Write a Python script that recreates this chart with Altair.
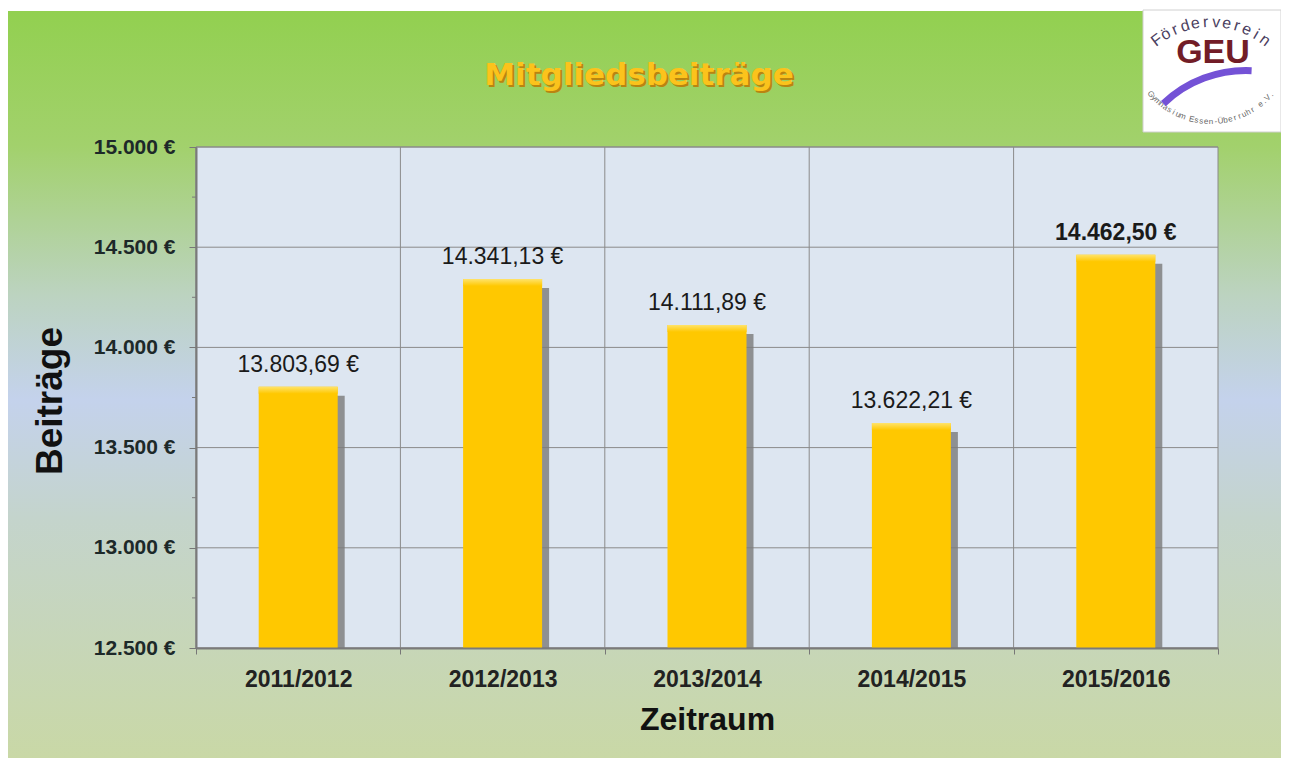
import math
import altair as alt
import pandas as pd

# ---------------- data ----------------
zeitraeume = ["2011/2012", "2012/2013", "2013/2014", "2014/2015", "2015/2016"]
beitraege = [13803.69, 14341.13, 14111.89, 13622.21, 14462.50]
hervorgehoben = [False, False, False, False, True]
y_ticks = [12500, 13000, 13500, 14000, 14500, 15000]
y_minor = [12750, 13250, 13750, 14250, 14750]

df = pd.DataFrame({"Zeitraum": zeitraeume, "Beitrag": beitraege, "fett": hervorgehoben})
df_grid = pd.DataFrame({"Beitrag": y_ticks})
df_minor = pd.DataFrame({"Beitrag": y_minor})
one = pd.DataFrame({"k": [0]})

W, H = 1022, 501
PAD_L, PAD_T, PAD_R, PAD_B = 188, 139, 63, 110
FONT = "Liberation Sans"

xscale = alt.Scale(paddingInner=0, paddingOuter=0)
yscale = alt.Scale(domain=[12500, 15000], nice=False, zero=False)

label_expr = "replace(replace(replace(format(datum.Beitrag, ',.2f'), ',', '#'), '.', ','), '#', '.') + ' €'"

X_AXIS = alt.Axis(
    title="Zeitraum", labelAngle=0, labelFont=FONT, labelFontSize=23, labelFontWeight="bold",
    labelColor="#222222", tickBand="extent", tickSize=6, tickColor="#777777",
    domainColor="#7a7a7a", domainWidth=2, labelPadding=14, grid=False,
    titleFont=FONT, titleFontSize=32, titleFontWeight="bold", titleColor="#111111",
    titleY=71, titleBaseline="middle", zindex=1,
)
Y_AXIS = alt.Axis(
    values=y_ticks,
    labelExpr="replace(format(datum.value, ',.0f'), ',', '.') + ' €'",
    labelFont=FONT, labelFontSize=21, labelFontWeight="bold", labelColor="#1d2929",
    tickSize=7, tickColor="#777777", labelPadding=14, grid=False,
    domainColor="#7a7a7a", domainWidth=2,
    title="Beiträge", titleFont=FONT, titleFontSize=37, titleFontWeight="bold",
    titleColor="#111111", titleX=-146, titleY=H / 2 + 3, titleBaseline="middle",
    titleAlign="center", zindex=1,
)

def X(**kw):
    return alt.X("Zeitraum:N", sort=zeitraeume, scale=xscale, axis=X_AXIS, **kw)

def Y():
    return alt.Y("Beitrag:Q", scale=yscale, axis=Y_AXIS)

# ---------------- background ----------------
bg = alt.Chart(one).mark_rect(
    color=alt.LinearGradient(
        gradient="linear", x1=0, x2=0, y1=0, y2=1,
        stops=[
            alt.GradientStop(color="#92d050", offset=0),
            alt.GradientStop(color="#a2d16c", offset=0.18),
            alt.GradientStop(color="#bcd3c0", offset=0.38),
            alt.GradientStop(color="#c4d2ec", offset=0.52),
            alt.GradientStop(color="#c4d4cc", offset=0.68),
            alt.GradientStop(color="#c9d8a6", offset=1),
        ],
    )
).encode(x=alt.value(-PAD_L), x2=alt.value(W + PAD_R), y=alt.value(-PAD_T + 3), y2=alt.value(H + PAD_B))

plotbg = alt.Chart(one).mark_rect(fill="#dde6f1", stroke="#8a8a8a", strokeWidth=1).encode(
    x=alt.value(0), x2=alt.value(W), y=alt.value(0), y2=alt.value(H)
)

ygrid = alt.Chart(df_grid).mark_rule(color="#8a8a8a", strokeWidth=1).encode(y=Y())
xgrid = alt.Chart(df).mark_rule(color="#8a8a8a", strokeWidth=1).encode(x=X(bandPosition=0))
minor = alt.Chart(df_minor).mark_rule(color="#7a7a7a", strokeWidth=1).encode(
    y=Y(), x=alt.value(-4), x2=alt.value(0)
)

# ---------------- bars ----------------
shadow = alt.Chart(df).mark_bar(size=79, color="#7a7a7a", opacity=0.8, xOffset=7, yOffset=9).encode(
    x=X(), y=Y(), y2=alt.datum(12500),
)
bars = alt.Chart(df).mark_bar(size=79, color="#ffc800").encode(x=X(), y=Y(), y2=alt.datum(12500))
highlight = alt.Chart(df).mark_bar(
    size=79, y2Offset=7,
    color=alt.LinearGradient(
        gradient="linear", x1=0, x2=0, y1=0, y2=1,
        stops=[alt.GradientStop(color="#ffe36a", offset=0), alt.GradientStop(color="#ffc800", offset=1)],
    ),
).encode(x=X(), y=Y(), y2=alt.Y2("Beitrag:Q"))

def value_labels(bold):
    return (
        alt.Chart(df)
        .transform_filter(alt.datum.fett == bold)
        .transform_calculate(txt=label_expr)
        .mark_text(font=FONT, fontSize=23, fontWeight="bold" if bold else "normal",
                   color="#1a1a1a", baseline="alphabetic", dy=-15)
        .encode(x=X(), y=Y(), text="txt:N")
    )

# ---------------- title ----------------
title_shadow = alt.Chart(one).mark_text(
    text="Mitgliedsbeiträge", font="DejaVu Sans", fontSize=31, fontWeight="bold",
    color="#b98510", align="center", baseline="alphabetic",
).encode(x=alt.value(445), y=alt.value(-60))
title_main = alt.Chart(one).mark_text(
    text="Mitgliedsbeiträge", font="DejaVu Sans", fontSize=31, fontWeight="bold",
    color="#fbc31c", align="center", baseline="alphabetic",
).encode(x=alt.value(443), y=alt.value(-62))

# ---------------- logo ----------------
logo_layers = [
    alt.Chart(one).mark_rect(fill="white", stroke="#d0d0d0", strokeWidth=1).encode(
        x=alt.value(947), x2=alt.value(W + PAD_R), y=alt.value(-137), y2=alt.value(-15)
    )
]
top_txt = "Förderverein"
cx, cy, r = 1211 - 196, 112 - 147, 90
for i, ch in enumerate(top_txt):
    phi = -37 + i * 74 / (len(top_txt) - 1)
    a = math.radians(phi)
    logo_layers.append(
        alt.Chart(one).mark_text(text=ch, font=FONT, fontSize=16, color="#4b4060",
                                 align="center", baseline="middle", angle=phi % 360)
        .encode(x=alt.value(cx + r * math.sin(a)), y=alt.value(cy - r * math.cos(a)))
    )
bot_txt = "Gymnasium Essen-Überruhr e.V."
cx2, cy2, r2 = 1211 - 196, 42 - 147, 80
for i, ch in enumerate(bot_txt):
    phi = 229 - i * 98 / (len(bot_txt) - 1)
    a = math.radians(phi)
    logo_layers.append(
        alt.Chart(one).mark_text(text=ch, font=FONT, fontSize=8, color="#666666",
                                 align="center", baseline="middle", angle=(phi - 180) % 360)
        .encode(x=alt.value(cx2 + r2 * math.sin(a)), y=alt.value(cy2 - r2 * math.cos(a)))
    )
logo_layers.append(
    alt.Chart(one).mark_arc(radius=116, radius2=123, theta=5.52, theta2=6.33, color="#7452d6")
    .encode(x=alt.value(1246 - 196), y=alt.value(190 - 147))
)
logo_layers.append(
    alt.Chart(one).mark_text(text="GEU", font="Liberation Sans Narrow, Liberation Sans", fontSize=34,
                             fontWeight="bold", color="#721d27", align="center", baseline="alphabetic")
    .encode(x=alt.value(1213 - 196), y=alt.value(63 - 147))
)

chart = alt.layer(
    bg, plotbg, ygrid, xgrid, minor, shadow, bars, highlight,
    value_labels(False), value_labels(True), title_shadow, title_main, *logo_layers,
).properties(
    width=W, height=H,
    padding={"left": PAD_L, "top": PAD_T, "right": PAD_R, "bottom": PAD_B},
    autosize=alt.AutoSizeParams(type="none"),
    background="white",
).configure_view(strokeWidth=0)

chart.save("out.html", embed_options={"renderer": "svg", "actions": False})
